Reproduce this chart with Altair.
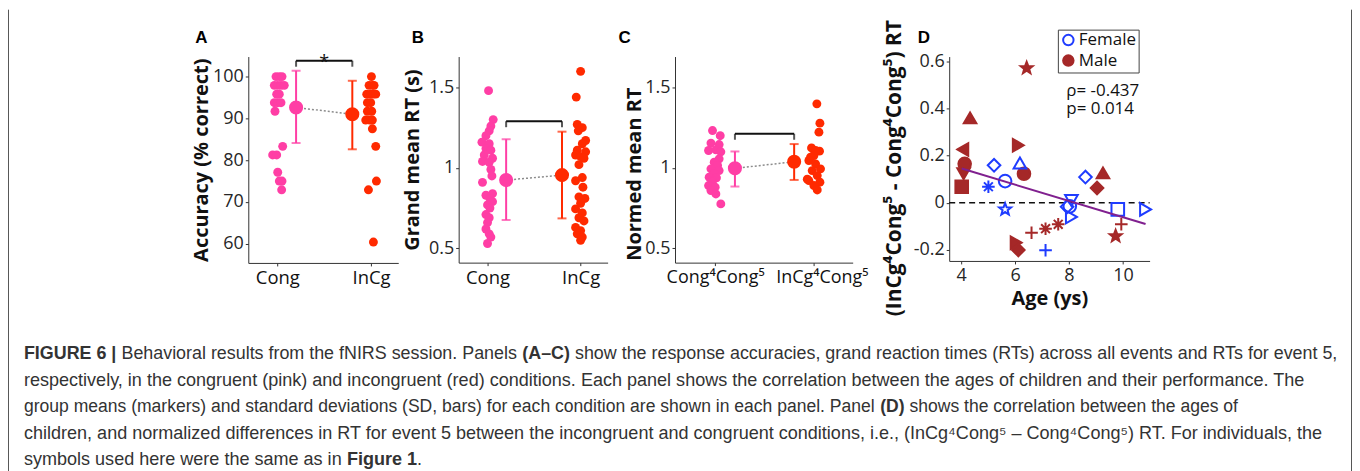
import math
import altair as alt
import pandas as pd

PINK = "#ff3ea5"
RED = "#ff2a00"
BLUE = "#1f3cff"
DRED = "#a52828"
PURPLE = "#80208f"
AX = "#333333"

conds = ["Cong", "InCg"]
mean_pos = [1.2, 1.8]

# ---------------- Panel A: accuracy (% correct) ----------------
A_cong_x = [0.986, 1.021, 1.05, 0.968, 1.004, 1.039, 1.074, 0.993, 1.021, 0.968,
            1.004, 1.039, 0.975, 1.057, 0.95, 0.993, 1.004, 1.021, 1.05, 1.046]
A_cong_y = [100, 100, 100, 97.9, 97.9, 97.9, 97.9, 95.8, 95.8, 93.75,
            93.75, 93.75, 91.7, 83.3, 81.25, 81.25, 77.1, 75, 75, 72.9]
A_incg_x = [2.004, 1.979, 2.014, 2.032, 1.954, 1.996, 2.025, 2.05, 1.961, 1.996,
            1.961, 2.007, 1.943, 1.986, 2.014, 2.014, 2.05, 2.057, 1.972, 2.025]
A_incg_y = [100, 97.9, 97.9, 97.9, 95.8, 95.8, 95.8, 95.8, 93.75, 93.75,
            91.7, 91.7, 89.6, 89.6, 89.6, 87.5, 83.3, 75, 72.9, 60.4]
A_mean = [92.6, 91.0]
A_lo = [84.1, 82.6]
A_hi = [101.4, 99.0]
A_bracket = 103.8

# ---------------- Panel B: grand mean RT (s) ----------------
B_cong_x = [1.011, 1.061, 1.036, 1.018, 0.983, 0.94, 1.018, 0.983, 1.036, 0.965,
            1.054, 0.946, 1.018, 1.036, 1.047, 0.946, 1.054, 0.983, 1.026, 1.054,
            1.0, 1.026, 0.983, 1.018, 1.0, 0.983, 1.018, 1.036, 1.0]
B_cong_y = [1.48, 1.30, 1.26, 1.23, 1.20, 1.16, 1.15, 1.12, 1.11, 1.08,
            1.06, 1.04, 1.035, 0.99, 0.95, 0.91, 0.84, 0.83, 0.81, 0.79,
            0.77, 0.75, 0.71, 0.69, 0.66, 0.62, 0.59, 0.57, 0.53]
B_incg_x = [2.0, 1.953, 1.964, 2.018, 1.975, 2.054, 2.018, 1.964, 2.054, 1.946,
            2.0, 2.036, 1.982, 2.018, 1.946, 2.025, 1.982, 2.046, 2.0, 1.946,
            2.018, 1.982, 2.036, 1.946, 2.0, 1.964, 2.018, 2.0]
B_incg_y = [1.60, 1.44, 1.27, 1.25, 1.23, 1.17, 1.15, 1.11, 1.10, 1.08,
            1.07, 1.06, 1.02, 0.94, 0.92, 0.88, 0.82, 0.81, 0.78, 0.745,
            0.72, 0.69, 0.67, 0.63, 0.61, 0.59, 0.57, 0.55]
B_mean = [0.924, 0.955]
B_lo = [0.676, 0.686]
B_hi = [1.178, 1.225]
B_bracket = 1.29

# ---------------- Panel C: normed mean RT ----------------
C_cong_x = [0.973, 1.051, 0.957, 1.04, 0.933, 1.007, 1.057, 1.04, 0.99, 1.024,
            0.957, 1.04, 0.99, 0.939, 1.013, 0.973, 0.967, 0.933, 1.0, 0.957,
            1.007, 1.057]
C_cong_y = [1.232, 1.20, 1.154, 1.145, 1.108, 1.112, 1.10, 1.056, 1.035, 1.015,
            0.994, 0.983, 0.963, 0.942, 0.938, 0.92, 0.911, 0.89, 0.88, 0.859,
            0.838, 0.776]
C_incg_x = [2.03, 2.061, 2.051, 1.976, 2.057, 2.017, 2.0, 1.966, 1.949, 2.017,
            2.067, 1.983, 2.034, 1.933, 1.949, 2.061, 2.0, 2.034]
C_incg_y = [1.398, 1.278, 1.222, 1.124, 1.104, 1.108, 1.077, 1.066, 1.046, 1.025,
            0.994, 0.983, 0.952, 0.93, 0.921, 0.911, 0.89, 0.863]
C_mean = [0.997, 1.038]
C_lo = [0.884, 0.925]
C_hi = [1.102, 1.148]
C_bracket = 1.212

# ---------------- Panel D: age vs RT difference ----------------
D_age = [6.43, 4.33, 4.06, 4.13, 4.09, 4.02, 6.12, 6.33, 9.04, 9.26,
         9.73, 9.94, 6.61, 7.13, 7.60, 6.04, 6.12,
         5.22, 5.63, 6.18, 5.01, 5.63, 7.13, 8.61, 7.93, 8.09,
         8.03, 8.09, 9.81, 10.84]
D_diff = [0.571, 0.360, 0.226, 0.165, 0.123, 0.068, 0.244, 0.123, 0.063, 0.127,
          -0.141, -0.091, -0.127, -0.110, -0.091, -0.169, -0.200,
          0.159, 0.092, 0.169, 0.068, -0.028, -0.201, 0.109, -0.017, 0.010,
          -0.015, -0.060, -0.028, -0.028]
D_sex = ["Male"] * 17 + ["Female"] * 13
D_sym = ["star", "tri_up", "tri_left", "circle", "tri_down", "square", "tri_right", "circle",
         "diamond", "tri_up", "star", "plus", "plus", "asterisk", "asterisk", "tri_right",
         "diamond",
         "diamond", "circle", "tri_up", "asterisk", "star", "plus", "diamond", "diamond",
         "tri_down", "circle", "tri_right", "square", "tri_right"]
rho_text = ["\u03c1= -0.437", "p= 0.014"]

# ---------------- caption ----------------
caption = [
    [("FIGURE 6 |", True), ("Behavioral results from the fNIRS session. Panels", False), ("(A\u2013C)", True),
     ("show the response accuracies, grand reaction times (RTs) across all events and RTs for event 5,", False)],
    [("respectively, in the congruent (pink) and incongruent (red) conditions. Each panel shows the correlation between the ages of children and their performance. The", False)],
    [("group means (markers) and standard deviations (SD, bars) for each condition are shown in each panel. Panel", False),
     ("(D)", True), ("shows the correlation between the ages of", False)],
    [("children, and normalized differences in RT for event 5 between the incongruent and congruent conditions, i.e., (InCg\u2074Cong\u2075 \u2013 Cong\u2074Cong\u2075) RT. For individuals, the", False)],
    [("symbols used here were the same as in", False), ("Figure 1", True), (".", False)],
]

# ---------------- layout (page pixels) ----------------
ORG = (249, 55)                     # top-left of panel A plot area on the page
CAP_X0 = 24
CAP_Y = [353, 380, 407, 433.5, 460]
CAP_FS = [17.95, 18.1, 17.6, 18.1, 18.1]
LETTERS = [("A", 202), ("B", 419), ("C", 626.5), ("D", 926.5)]
LETTER_Y = 36

# Arial / Liberation Sans advance widths (1/1000 em) for the caption segments
_REG = dict(zip("abcdefghijklmnopqrstuvwxyz", [556, 556, 500, 556, 556, 278, 556, 556, 222, 222, 500, 222, 833,
                                                556, 556, 556, 556, 333, 500, 278, 556, 500, 722, 500, 500, 500]))
_REG.update(dict(zip("ABCDEFGHIJKLMNOPQRSTUVWXYZ", [667, 667, 722, 722, 667, 611, 778, 722, 278, 500, 667, 556, 833,
                                                     722, 778, 667, 778, 722, 667, 611, 722, 667, 944, 667, 667, 611])))
_REG.update({" ": 278, ".": 278, ",": 278, "(": 333, ")": 333, "|": 260, "\u2013": 556})
_BLD = dict(zip("abcdefghijklmnopqrstuvwxyz", [556, 611, 556, 611, 556, 333, 611, 611, 278, 278, 556, 278, 889,
                                                611, 611, 611, 611, 389, 556, 333, 611, 556, 778, 556, 556, 500]))
_BLD.update(dict(zip("ABCDEFGHIJKLMNOPQRSTUVWXYZ", [722, 722, 722, 722, 667, 611, 778, 722, 278, 556, 722, 611, 833,
                                                     722, 778, 667, 778, 722, 667, 611, 722, 667, 944, 667, 667, 611])))
_BLD.update({" ": 278, ".": 278, ",": 278, "(": 333, ")": 333, "|": 280, "\u2013": 556})


def text_width(s, bold, fs):
    tab = _BLD if bold else _REG
    return sum(tab.get(ch, 556) for ch in s) / 1000.0 * fs


# ---------------- styling helpers ----------------
AXK = dict(grid=False, domainColor=AX, domainWidth=1, tickColor=AX, tickSize=3, tickWidth=1,
           labelFont="Open Sans", labelColor="#262626", titleFont="Open Sans",
           titleFontSize=20, titleFontWeight="bold", titleColor="#111111",
           labelFlush=False, labelOverlap=False)


def yaxis(values, title, labelExpr, titleX, **kw):
    d = dict(AXK)
    d.update(dict(values=values, title=title, labelFontSize=18, labelPadding=2,
                  labelExpr=labelExpr, titleX=titleX, titleBaseline="middle"))
    d.update(kw)
    return alt.Axis(**d)


def xaxis(values, labelExpr, title=None, **kw):
    d = dict(AXK)
    d.update(dict(values=values, labelExpr=labelExpr, labelFontSize=18.5,
                  labelColor="#111111", labelPadding=3, title=title))
    d.update(kw)
    return alt.Axis(**d)


one = alt.Data(values=[{}])


def vtext(txt, px, py, **kw):
    """Text placed at a page position, expressed relative to the panel-A plot origin."""
    return alt.Chart(one).mark_text(text=txt, **kw).encode(
        x=alt.value(px - ORG[0]), y=alt.value(py - ORG[1]))


def panel(cx, cy, ix, iy, m, lo, hi, br, xdom, ydom, w, h, xax, yax, star=False, extra=()):
    xs = alt.Scale(domain=xdom, nice=False, zero=False)
    ys = alt.Scale(domain=ydom, nice=False, zero=False)
    col = alt.Color("cond:N", scale=alt.Scale(domain=conds, range=[PINK, RED]), legend=None)
    pts = pd.DataFrame({"x": cx + ix, "y": cy + iy,
                        "cond": ["Cong"] * len(cx) + ["InCg"] * len(ix)})
    st = pd.DataFrame({"x": mean_pos, "y": m, "lo": lo, "hi": hi, "cond": conds})
    bdf = pd.DataFrame({"x": [mean_pos[0]], "x2": [mean_pos[1]], "y": [br]})
    bt = pd.DataFrame({"x": mean_pos, "y": [br, br]})

    def X(f="x:Q"):
        return alt.X(f, scale=xs, axis=xax)

    def Y(f="y:Q"):
        return alt.Y(f, scale=ys, axis=yax)

    layers = [
        alt.Chart(pts).mark_circle(size=80, opacity=1).encode(x=X(), y=Y(), color=col),
        alt.Chart(st).mark_line(strokeDash=[2, 2], color="#8c8c8c", strokeWidth=1.5).encode(x=X(), y=Y()),
        alt.Chart(st).mark_rule(strokeWidth=2).encode(x=X(), y=Y("lo:Q"), y2="hi:Q", color=col),
        alt.Chart(st).mark_tick(orient="horizontal", size=9, thickness=2).encode(x=X(), y=Y("lo:Q"), color=col),
        alt.Chart(st).mark_tick(orient="horizontal", size=9, thickness=2).encode(x=X(), y=Y("hi:Q"), color=col),
        alt.Chart(st).mark_circle(size=200, opacity=1).encode(x=X(), y=Y(), color=col),
        alt.Chart(bdf).mark_rule(strokeWidth=2, color="#111111").encode(x=X(), x2="x2:Q", y=Y()),
        alt.Chart(bt).mark_tick(orient="vertical", size=6, thickness=2, yOffset=3, color="#111111").encode(x=X(), y=Y()),
    ]
    if star:
        sdf = pd.DataFrame({"x": [sum(mean_pos) / 2], "y": [br]})
        layers.append(alt.Chart(sdf).mark_text(text="*", fontSize=18, font="Open Sans", dy=7,
                                               baseline="alphabetic", color="#111111")
                      .encode(x=X(), y=Y()))
    layers.extend(extra)
    return alt.layer(*layers).properties(width=w, height=h)


num_expr = "toString(datum.value)"
cat_expr = "datum.value == 1 ? 'Cong' : 'InCg'"
cat_expr_c = "datum.value == 1 ? 'Cong\u2074Cong\u2075' : 'InCg\u2074Cong\u2075'"

# ---- decorations (caption, panel letters, frame) drawn in panel A's layer ----
deco = []
for lab, lx in LETTERS:
    deco.append(vtext(lab, lx, LETTER_Y, font="Liberation Sans", fontWeight="bold", fontSize=17,
                      color="#000000", align="center", baseline="middle"))
for line, yv, fs in zip(caption, CAP_Y, CAP_FS):
    xv = CAP_X0
    for txt, bold in line:
        if txt == ".":
            xv -= text_width(" ", False, fs)
        deco.append(vtext(txt, xv, yv, font="Liberation Sans", fontSize=fs,
                          fontWeight="bold" if bold else "normal", color="#333333",
                          align="left", baseline="middle"))
        xv += text_width(txt, bold, fs) + text_width(" ", False, fs)
for fx in (8.5, 1355.5):
    deco.append(alt.Chart(one).mark_rule(color="#555555", strokeWidth=1).encode(
        x=alt.value(fx - ORG[0]), y=alt.value(8 - ORG[1]), y2=alt.value(471 - ORG[1])))

pA = panel(A_cong_x, A_cong_y, A_incg_x, A_incg_y, A_mean, A_lo, A_hi, A_bracket,
           [0.69, 2.29], [55.4, 104.8], 150.4, 207,
           xaxis([1, 2], cat_expr),
           yaxis([60, 70, 80, 90, 100], "Accuracy (% correct)", num_expr, -47), star=True, extra=deco)
pB = panel(B_cong_x, B_cong_y, B_incg_x, B_incg_y, B_mean, B_lo, B_hi, B_bracket,
           [0.69, 2.29], [0.411, 1.692], 149.4, 206.7,
           xaxis([1, 2], cat_expr),
           yaxis([0.5, 1, 1.5], "Grand mean RT (s)", num_expr, -46.3))
pC = panel(C_cong_x, C_cong_y, C_incg_x, C_incg_y, C_mean, C_lo, C_hi, C_bracket,
           [0.593, 2.393], [0.411, 1.692], 178.2, 206.7,
           xaxis([1, 2], cat_expr_c, labelFontSize=18,
                 labelOffset={"condition": {"test": "datum.value == 2", "value": 8}, "value": 0}),
           yaxis([0.5, 1, 1.5], "Normed mean RT", num_expr, -40.7, titleY=117.5))

# ---------------- Panel D ----------------
STAR = "M" + "L".join(
    f"{(1.0 if k % 2 == 0 else 0.42) * math.cos(-math.pi / 2 + k * math.pi / 5):.3f},"
    f"{(1.0 if k % 2 == 0 else 0.42) * math.sin(-math.pi / 2 + k * math.pi / 5):.3f}"
    for k in range(10)) + "Z"
PLUS = "M-1,0L1,0M0,-1L0,1"
AST = "M-1,0L1,0M0,-1L0,1M-0.7,-0.7L0.7,0.7M-0.7,0.7L0.7,-0.7"
sym_dom = ["circle", "square", "diamond", "tri_up", "tri_down", "tri_left", "tri_right", "star", "plus", "asterisk"]
sym_rng = ["circle", "square", "diamond", "triangle-up", "triangle-down", "triangle-left", "triangle-right", STAR, PLUS, AST]

D_xdom = [3.556, 10.99]
D_ydom = [-0.2465, 0.62]
dxs = alt.Scale(domain=D_xdom, nice=False, zero=False)
dys = alt.Scale(domain=D_ydom, nice=False, zero=False)
ddf = pd.DataFrame({"age": D_age, "diff": D_diff, "sex": D_sex, "sym": D_sym})

leg = dict(title=None, orient="none", legendX=1058 - 949, legendY=28 - 55, symbolType="circle",
           symbolSize=110, symbolStrokeWidth=2, labelFont="Open Sans", labelFontSize=17,
           labelColor="#111111", strokeColor="#444444", fillColor="white", padding=2,
           rowPadding=1.5, labelOffset=2, cornerRadius=0)

d_axx = xaxis([4, 6, 8, 10], num_expr, title="Age (ys)", labelColor="#262626",
              labelFontSize=18, titleY=38, titleBaseline="middle")
d_axy = yaxis([-0.2, 0, 0.2, 0.4, 0.6], "(InCg\u2074Cong\u2075 - Cong\u2074Cong\u2075) RT",
              "datum.value == 0 ? '0' : toString(round(datum.value * 10) / 10)", -54.5, titleY=111.5,
              titleFontSize=21)

zero_df = pd.DataFrame({"age": [D_xdom[0]], "age2": [D_xdom[1]], "diff": [0.0]})
rho_df = pd.DataFrame({"age": [7.9], "diff": [0.474]})


def DX():
    return alt.X("age:Q", scale=dxs, axis=d_axx)


def DY():
    return alt.Y("diff:Q", scale=dys, axis=d_axy)


pD = alt.layer(
    alt.Chart(zero_df).mark_rule(strokeDash=[6, 4], color="#111111", strokeWidth=1.5).encode(
        x=DX(), x2="age2:Q", y=DY()),
    alt.Chart(ddf).mark_point(size=160, strokeWidth=2, opacity=1).encode(
        x=DX(), y=DY(),
        shape=alt.Shape("sym:N", scale=alt.Scale(domain=sym_dom, range=sym_rng), legend=None),
        stroke=alt.Stroke("sex:N", scale=alt.Scale(domain=["Female", "Male"], range=[BLUE, DRED]),
                          legend=alt.Legend(**leg)),
        fill=alt.Fill("sex:N", scale=alt.Scale(domain=["Female", "Male"], range=["transparent", DRED]),
                      legend=alt.Legend(**leg)),
    ),
    alt.Chart(ddf).transform_regression("age", "diff").mark_line(color=PURPLE, strokeWidth=2).encode(
        x=DX(), y=DY()),
    alt.Chart(rho_df).mark_text(text=rho_text, lineHeight=18.5, align="left", baseline="middle",
                                font="Open Sans", fontSize=17, color="#111111").encode(x=DX(), y=DY()),
).properties(width=201, height=205)


def spacer(w):
    return alt.Chart(one).mark_point(opacity=0).properties(width=w, height=205)


chart = alt.hconcat(pA, spacer(59.9), pB, spacer(67), pC, spacer(95.1), pD,
                    spacing=0, bounds="flush").resolve_scale(
    stroke="independent", fill="independent", shape="independent").properties(
    padding=0, background="white").configure_view(strokeWidth=0)

chart.save("out.html", embed_options={"renderer": "svg", "actions": False})
